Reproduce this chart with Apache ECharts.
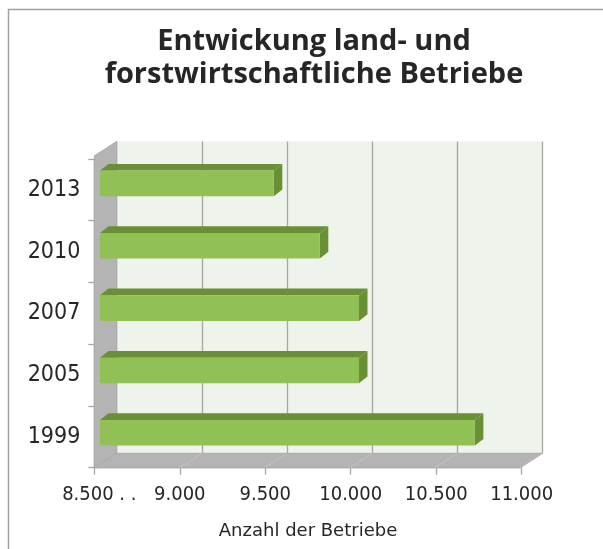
<!DOCTYPE html>
<html lang="de">
<head>
<meta charset="UTF-8">
<title>Entwickung land- und forstwirtschaftliche Betriebe</title>
<script src="https://cdn.jsdelivr.net/npm/echarts@6/dist/echarts.min.js"></script>
<style>html,body{margin:0;padding:0;background:#fff}</style>
</head>
<body>
<div id="main" style="width:603px;height:549px"></div>
<script>
// Daten
var jahre = ['1999', '2005', '2007', '2010', '2013'];
var betriebe = [10700, 10020, 10020, 9790, 9520];
var xTicks = [8500, 9000, 9500, 10000, 10500, 11000];
var xTickLabels = ['8.500 . .', '9.000', '9.500', '10.000', '10.500', '11.000'];

var myChart = echarts.init(document.getElementById('main'));

// 3D-Versatz: Rückwand -> Vorderkante
var DX = -22.4, DY = 14.4;
// Balken: Vorderseite relativ zur Rückwand, und Tiefe des Balkens
var BFX = -16.7, BFY = 10.7, BDX = 8.5, BDY = -6.7;

var labelFont = "'DejaVu Sans Condensed', 'DejaVu Sans', sans-serif";

function renderWalls(params, api) {
    var cs = params.coordSys;
    var l = cs.x, t = cs.y, r = cs.x + cs.width, b = cs.y + cs.height;
    var children = [
        {type: 'polygon', shape: {points: [[l, t], [l, b], [l + DX, b + DY], [l + DX, t + DY]]},
            style: {fill: '#b4b4b4', stroke: '#a9a9a9', lineWidth: 1}},
        {type: 'polygon', shape: {points: [[l, b], [r, b], [r + DX, b + DY], [l + DX, b + DY]]},
            style: {fill: '#b4b4b4', stroke: '#a9a9a9', lineWidth: 1}}
    ];
    for (var i = 1; i < xTicks.length; i++) {
        var x = api.coord([xTicks[i], 0])[0];
        children.push({type: 'line', shape: {x1: x, y1: b, x2: x + DX, y2: b + DY},
            style: {stroke: '#c4c4c4', lineWidth: 1}});
    }
    return {type: 'group', children: children};
}

function renderBar(params, api) {
    var v = api.value(0), c = api.value(1);
    var s = api.coord([xTicks[0], c]);
    var e = api.coord([v, c]);
    var h = api.size([0, 1])[1] * 0.41;
    var x0 = s[0] + BFX, x1 = e[0] + BFX;
    var yc = s[1] + BFY, y0 = yc - h / 2, y1 = yc + h / 2;
    return {type: 'group', children: [
        {type: 'polygon', shape: {points: [[x0, y0], [x1, y0], [x1 + BDX, y0 + BDY], [x0 + BDX, y0 + BDY]]},
            style: {fill: '#6b8f37'}},
        {type: 'polygon', shape: {points: [[x1, y0], [x1 + BDX, y0 + BDY], [x1 + BDX, y1 + BDY], [x1, y1]]},
            style: {fill: '#6a9035'}},
        {type: 'rect', shape: {x: x0, y: y0, width: x1 - x0, height: h},
            style: {fill: '#91c054'}}
    ]};
}

var option = {
    backgroundColor: '#fff',
    animation: false,
    title: {
        text: 'Entwickung land- und\nforstwirtschaftliche Betriebe',
        left: 314,
        textAlign: 'center',
        top: 25,
        padding: 0,
        textStyle: {
            fontFamily: "'Open Sans', sans-serif",
            fontWeight: 'bold',
            fontSize: 29,
            lineHeight: 33,
            color: '#262626'
        }
    },
    graphic: [
        {type: 'rect', shape: {x: 8.5, y: 9.5, width: 700, height: 700},
            style: {fill: 'none', stroke: '#a0a0a0', lineWidth: 1.5}, z: 0}
    ],
    grid: [
        // Rückwand
        {left: 116.7, right: 60.3, top: 141.5, bottom: 95.7, show: true,
            backgroundColor: '#eef3ec', borderWidth: 0},
        // Vorderkante (Achsen)
        {left: 94.3, right: 81.3, top: 159, bottom: 81.3}
    ],
    xAxis: [
        {type: 'value', gridIndex: 0, min: 8500, max: 11000, interval: 500,
            axisLine: {show: false}, axisTick: {show: false}, axisLabel: {show: false},
            splitLine: {show: true, lineStyle: {color: '#a6a6a6', width: 1.3}}},
        {type: 'value', gridIndex: 1, min: 8500, max: 11000, interval: 500,
            axisLine: {show: true, lineStyle: {color: '#a6a6a6', width: 1.3}},
            axisTick: {show: true, length: 7, lineStyle: {color: '#a6a6a6', width: 1.3}},
            axisLabel: {
                margin: 17,
                fontFamily: labelFont, fontSize: 20, color: '#262626',
                formatter: function (val, idx) {
                    return idx === 0 ? '{first|' + xTickLabels[idx] + '}' : xTickLabels[idx];
                },
                rich: {
                    first: {padding: [0, 0, 0, 10], fontFamily: labelFont, fontSize: 20, color: '#262626'}
                }
            },
            splitLine: {show: false},
            name: 'Anzahl der Betriebe',
            nameLocation: 'middle',
            nameGap: 55,
            nameTextStyle: {fontFamily: "'DejaVu Sans', sans-serif", fontSize: 18, color: '#262626'}}
    ],
    yAxis: [
        {type: 'category', gridIndex: 0, data: jahre, show: false},
        {type: 'category', gridIndex: 1, data: jahre,
            axisLine: {show: true, lineStyle: {color: '#a6a6a6', width: 1.3}},
            axisTick: {show: true, length: 6, lineStyle: {color: '#a6a6a6', width: 1.3}},
            axisLabel: {margin: 14, fontFamily: labelFont, fontSize: 23, color: '#262626',
                padding: [0, 0, 7, 0]},
            splitLine: {show: false}}
    ],
    series: [
        {type: 'custom', name: 'Wände', xAxisIndex: 0, yAxisIndex: 0, clip: false, z: 1,
            silent: true, renderItem: renderWalls, data: [[xTicks[0], 0]]},
        {type: 'custom', name: 'Betriebe', xAxisIndex: 0, yAxisIndex: 0, clip: false, z: 5,
            renderItem: renderBar,
            data: jahre.map(function (j, i) { return [betriebe[i], i]; })}
    ]
};

myChart.setOption(option);
</script>
</body>
</html>
